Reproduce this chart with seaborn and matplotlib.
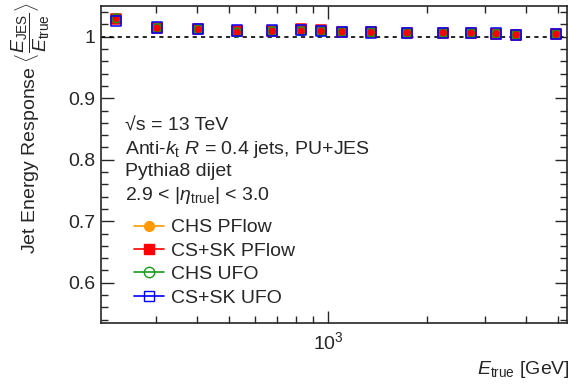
import matplotlib
matplotlib.use("Agg")
import matplotlib.pyplot as plt
import seaborn as sns
import pandas as pd
from matplotlib.lines import Line2D
from matplotlib.ticker import MultipleLocator, LogLocator, NullFormatter

# --- DATA ---
e_true = [227, 302, 403, 529, 676, 828, 952, 1103, 1351, 1738, 2237, 2722, 3240, 3727, 4932]
chs_pflow = [1.031, 1.016, 1.013, 1.010, 1.010, 1.013, 1.010, 1.009, 1.008, 1.007, 1.007, 1.006, 1.005, 1.003, 1.004]
cssk_pflow = [1.029, 1.015, 1.0125, 1.010, 1.010, 1.012, 1.011, 1.008, 1.007, 1.0065, 1.0065, 1.006, 1.005, 1.003, 1.004]
chs_ufo = [1.030, 1.014, 1.012, 1.007, 1.009, 1.009, 1.009, 1.008, 1.007, 1.0065, 1.0065, 1.006, 1.005, 1.003, 1.004]
cssk_ufo = [1.026, 1.015, 1.0125, 1.010, 1.010, 1.011, 1.009, 1.008, 1.007, 1.0065, 1.0065, 1.006, 1.005, 1.003, 1.004]
series_names = ["CHS PFlow", "CS+SK PFlow", "CHS UFO", "CS+SK UFO"]

# --- STYLE ---
sns.set_style("ticks")
plt.rcParams["font.family"] = ["Liberation Sans", "DejaVu Sans"]
plt.rcParams["mathtext.fontset"] = "custom"
plt.rcParams["mathtext.rm"] = "Liberation Sans"
plt.rcParams["mathtext.it"] = "Liberation Sans:italic"

FS = 14

styles = {
    "CHS PFlow": dict(marker="o", color="#ff9900", face="#ff9900", s=36),
    "CS+SK PFlow": dict(marker="s", color="#ff0000", face="#ff0000", s=42),
    "CHS UFO": dict(marker="o", color="#1a9a1a", face="none", s=40),
    "CS+SK UFO": dict(marker="s", color="#0000ff", face="none", s=56),
}

df = pd.DataFrame({"E": e_true * 4,
                   "R": chs_pflow + cssk_pflow + chs_ufo + cssk_ufo,
                   "series": [n for n in series_names for _ in e_true]})

fig = plt.figure(figsize=(5.71, 3.86), dpi=100)
ax = fig.add_axes([101 / 571, 1 - 323 / 386, 466 / 571, 317 / 386])

ax.axhline(1.0, color="black", linestyle=(0, (2.5, 2.5)), linewidth=1.2, zorder=1)

for name in series_names:
    st = styles[name]
    sub = df[df["series"] == name]
    sns.scatterplot(data=sub, x="E", y="R", ax=ax, marker=st["marker"], s=st["s"],
                    facecolor=st["face"], edgecolor=st["color"], linewidth=1.1,
                    legend=False, zorder=3)

ax.set_xscale("log")
ax.set_xlim(204, 5320)
ax.set_ylim(0.5345, 1.05)
ax.set_xlabel("")
ax.set_ylabel("")

ax.yaxis.set_major_locator(MultipleLocator(0.1))
ax.yaxis.set_minor_locator(MultipleLocator(0.02))
ax.yaxis.set_major_formatter(matplotlib.ticker.FuncFormatter(lambda v, p: f"{v:g}"))
ax.xaxis.set_major_locator(LogLocator(base=10, numticks=10))
ax.xaxis.set_minor_locator(LogLocator(base=10, subs=range(2, 10), numticks=20))
ax.xaxis.set_minor_formatter(NullFormatter())
ax.tick_params(which="both", direction="in", top=True, right=True, labelsize=FS, width=1)
ax.tick_params(which="major", length=9)
ax.tick_params(which="minor", length=5)
ax.tick_params(axis="x", pad=6)
ax.tick_params(axis="y", pad=4)
for sp in ax.spines.values():
    sp.set_linewidth(1.2)

# --- TEXT ---
fig.text(31 / 571, 1 - 3 / 386,
         r"Jet Energy Response $\langle\dfrac{E_{\mathrm{JES}}}{E_{\mathrm{true}}}\rangle$",
         rotation=90, ha="center", va="top", fontsize=FS)
fig.text(570 / 571, 1 - 370 / 386, r"$E_{\mathrm{true}}$ [GeV]", ha="right", va="center", fontsize=FS)

lines = ["\u221as = 13 TeV",
         r"Anti-$k_{\mathrm{t}}$ $R$ = 0.4 jets, PU+JES",
         "Pythia8 dijet",
         r"2.9 < |$\eta_{\mathrm{true}}$| < 3.0"]
ys = [126, 149, 172, 196]
for t, y in zip(lines, ys):
    fig.text(125 / 571, 1 - y / 386, t, ha="left", va="center", fontsize=FS)

handles = [Line2D([0], [0], color=styles[n]["color"], marker=styles[n]["marker"],
                  markerfacecolor=styles[n]["face"], markeredgecolor=styles[n]["color"],
                  markersize=7.5 if "UFO" in n else 7, linewidth=1.2) for n in series_names]
leg = ax.legend(handles, series_names, loc="upper left", bbox_to_anchor=(25 / 466, 1 - 205 / 317),
                frameon=False, fontsize=FS, handlelength=1.55, handletextpad=0.35,
                labelspacing=0.3, borderaxespad=0)

fig.savefig("out.png", dpi=100)
